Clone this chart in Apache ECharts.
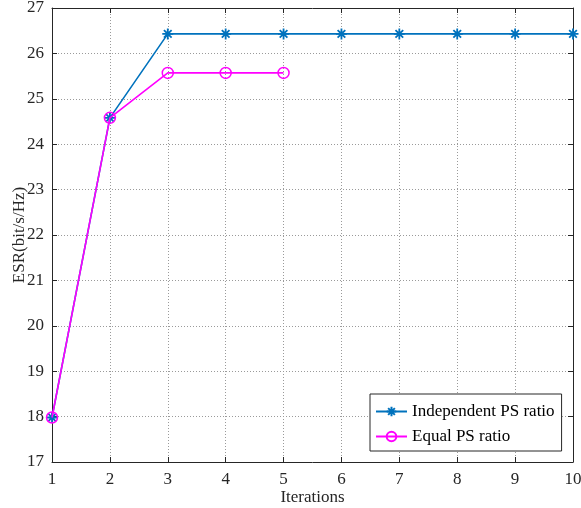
<!DOCTYPE html>
<html>
<head>
<meta charset="utf-8">
<script src="https://cdn.jsdelivr.net/npm/echarts@6/dist/echarts.min.js"></script>
<style>
  html, body { margin: 0; padding: 0; background: #fff; }
  #chart { width: 581px; height: 508px; }
</style>
</head>
<body>
<div id="chart"></div>
<script>
// Iteration counts and ESR values per scheme
const iterIndependent = [1, 2, 3, 4, 5, 6, 7, 8, 9, 10];
const esrIndependent = [17.98, 24.58, 26.43, 26.43, 26.43, 26.43, 26.43, 26.43, 26.43, 26.43];
const iterEqual = [1, 2, 3, 4, 5];
const esrEqual = [17.98, 24.58, 25.57, 25.57, 25.57];
const seriesNames = ['Independent PS ratio', 'Equal PS ratio'];

const FONT = 'Liberation Serif';
const AXIS_COLOR = '#262626';
const asterisk = 'path://M0,5 L10,5 M5,0 L5,10 M1.5,1.5 L8.5,8.5 M8.5,1.5 L1.5,8.5';

function pairs(xs, ys) { return xs.map((x, i) => [x, ys[i]]); }

const chart = echarts.init(document.getElementById('chart'), null, { renderer: 'canvas' });

const xBase = {
  type: 'value', min: 1, max: 10, interval: 1,
  axisLine: { show: true, onZero: false, lineStyle: { color: AXIS_COLOR, width: 1 } },
  axisTick: { show: true, inside: true, length: 5, lineStyle: { color: AXIS_COLOR } },
};
const yBase = {
  type: 'value', min: 17, max: 27, interval: 1,
  axisLine: { show: true, onZero: false, lineStyle: { color: AXIS_COLOR, width: 1 } },
  axisTick: { show: true, inside: true, length: 5, lineStyle: { color: AXIS_COLOR } },
};

chart.setOption({
  animation: false,
  textStyle: { fontFamily: FONT },
  grid: { left: 52, right: 8, top: 8, bottom: 46, containLabel: false, outerBoundsMode: 'none' },
  xAxis: [
    Object.assign({}, xBase, {
      position: 'bottom',
      name: 'Iterations', nameLocation: 'middle', nameGap: 27, nameMoveOverlap: false,
      nameTextStyle: { fontFamily: FONT, fontSize: 17, color: AXIS_COLOR },
      axisLabel: { fontFamily: FONT, fontSize: 17, color: AXIS_COLOR, margin: 9 },
      splitLine: { show: true, lineStyle: { color: '#9a9a9a', type: [1, 2], width: 1 } }
    }),
    Object.assign({}, xBase, {
      position: 'top', axisLabel: { show: false }, splitLine: { show: false }
    })
  ],
  yAxis: [
    Object.assign({}, yBase, {
      position: 'left',
      name: 'ESR(bit/s/Hz)', nameLocation: 'middle', nameGap: 24, nameMoveOverlap: false,
      nameTextStyle: { fontFamily: FONT, fontSize: 17, color: AXIS_COLOR },
      axisLabel: { fontFamily: FONT, fontSize: 17, color: AXIS_COLOR, margin: 8 },
      splitLine: { show: true, lineStyle: { color: '#9a9a9a', type: [1, 2], width: 1 } }
    }),
    Object.assign({}, yBase, {
      position: 'right', axisLabel: { show: false }, splitLine: { show: false }
    })
  ],
  legend: {
    left: 370, top: 394,
    orient: 'vertical',
    backgroundColor: '#fff',
    borderColor: AXIS_COLOR, borderWidth: 1,
    padding: [9, 7, 6, 5],
    itemGap: 8,
    itemWidth: 31, itemHeight: 12,
    textStyle: { fontFamily: FONT, fontSize: 17, color: '#000' },
    data: seriesNames
  },
  series: [
    {
      name: seriesNames[0], type: 'line',
      data: pairs(iterIndependent, esrIndependent),
      symbol: asterisk, symbolSize: 11,
      lineStyle: { color: '#0072BD', width: 1.6 },
      itemStyle: { color: 'rgba(0,0,0,0)', borderColor: '#0072BD', borderWidth: 1.8 },
      z: 2
    },
    {
      name: seriesNames[1], type: 'line',
      data: pairs(iterEqual, esrEqual),
      symbol: 'circle', symbolSize: 11,
      lineStyle: { color: '#FF00FF', width: 1.6 },
      itemStyle: { color: 'rgba(0,0,0,0)', borderColor: '#FF00FF', borderWidth: 1.5 },
      z: 3
    }
  ]
});
</script>
</body>
</html>
